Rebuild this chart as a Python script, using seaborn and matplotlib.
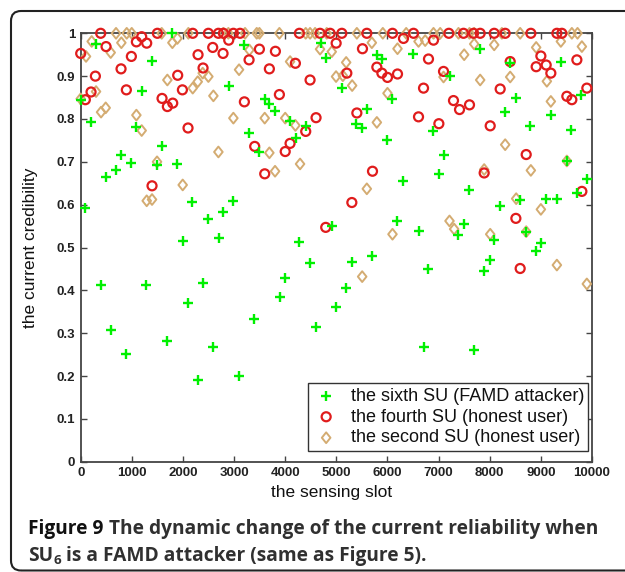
import numpy as np
import pandas as pd
import seaborn as sns
import matplotlib
matplotlib.use("Agg")
import matplotlib.pyplot as plt
from matplotlib.patches import FancyBboxPatch
from matplotlib.path import Path
from matplotlib.transforms import IdentityTransform

# ---------------- data ----------------
sixth_x = [0, 300, 196, 85, 489, 691, 795, 991, 1193, 1389, 1082, 1584, 1487, 1793, 1891,
           2184, 2497, 2791, 2986, 2895, 3195, 3293, 3495, 3599, 3690, 3801, 4095, 4212,
           4408, 4694, 4792, 5110, 4910,
           398, 593, 880, 1284, 1695, 1995, 2093, 2295, 2393, 2588, 2699, 3097, 3397, 3892,
           4003, 4277, 4486, 4597, 4994,
           5792, 5890, 6496, 7213, 7800, 8400, 9391, 6098, 5596, 5388, 5505, 8511, 8302,
           9189, 8791, 9587, 9789, 6900, 5987, 7096, 7005, 6294, 7604, 9899, 9508, 8204,
           8595, 9110, 9313, 9704, 6190, 6607, 7487, 7389, 8706,
           8093, 9000, 8908, 8009, 7891, 6802, 5701, 5309, 5192, 6705, 7696]
sixth_y = [0.845, 0.975, 0.792, 0.592, 0.664, 0.681, 0.716, 0.698, 0.866, 0.936, 0.781, 0.736,
           0.692, 1.0, 0.696, 0.606, 0.567, 0.584, 0.609, 0.877, 0.972, 0.767, 0.724, 0.847,
           0.836, 0.819, 0.795, 0.756, 0.783, 0.978, 0.942, 0.873, 0.551,
           0.412, 0.307, 0.251, 0.412, 0.282, 0.515, 0.370, 0.191, 0.417, 0.267, 0.522, 0.200,
           0.332, 0.385, 0.428, 0.512, 0.463, 0.314, 0.362,
           0.950, 0.940, 0.951, 0.901, 0.963, 0.930, 0.933, 0.847, 0.823, 0.788, 0.778, 0.849,
           0.816, 0.810, 0.784, 0.775, 0.857, 0.771, 0.752, 0.717, 0.671, 0.655, 0.634, 0.661,
           0.702, 0.597, 0.612, 0.614, 0.614, 0.628, 0.562, 0.538, 0.554, 0.529, 0.536,
           0.518, 0.511, 0.492, 0.471, 0.444, 0.450, 0.481, 0.465, 0.405, 0.267, 0.261]

fourth_x = [0, 91, 202, 287, 391, 496, 789, 893, 991, 1089, 1193, 1291, 1395, 1500, 1591, 1695,
            1800, 1897, 1989, 2099, 2191, 2295, 2393, 2497, 2693, 2791, 2986, 3117, 2582, 2784,
            2895, 3201, 3293, 3403, 3495, 3599, 3690, 3808, 3886, 4000, 4095, 4199, 4277, 4401,
            4486, 4603, 4792, 4681, 4879, 4996,
            5107, 5596, 6098, 6313, 6509, 6900, 7200, 7487, 7683, 7813, 8087, 8302, 8804, 9313,
            9410, 5511, 6802, 8400, 9000, 8908, 9104, 9195, 9704, 5205, 5792, 5890, 6000, 6196,
            7096, 6705, 8204, 9899, 9508, 9606, 7291, 7409, 7604, 5401, 6607, 7005, 8009, 8713,
            5707, 7891, 5303, 9802, 8511, 8595]
fourth_y = [0.953, 0.845, 0.863, 0.900, 1.0, 0.969, 0.917, 0.868, 0.946, 0.980, 0.992, 0.977,
            0.644, 1.0, 0.848, 0.829, 0.837, 0.902, 0.868, 0.779, 1.0, 0.950, 0.919, 1.0, 1.0,
            1.0, 1.0, 1.0, 0.967, 0.953, 0.984, 0.840, 0.938, 0.736, 0.963, 0.672, 0.917, 0.958,
            0.857, 0.724, 0.743, 0.930, 1.0, 0.771, 0.891, 0.803, 0.547, 1.0, 1.0, 0.977,
            1.0, 1.0, 1.0, 0.988, 1.0, 0.984, 1.0, 1.0, 1.0, 1.0, 1.0, 1.0, 1.0, 1.0,
            1.0, 0.964, 0.940, 0.934, 0.947, 0.922, 0.926, 0.907, 0.938, 0.907, 0.921, 0.907,
            0.897, 0.905, 0.911, 0.872, 0.870, 0.872, 0.853, 0.845, 0.843, 0.822, 0.833, 0.814,
            0.805, 0.789, 0.784, 0.717, 0.678, 0.674, 0.605, 0.631, 0.568, 0.451]

second_x = [0, 104, 215, 300, 398, 489, 587, 691, 795, 900, 998, 1089, 1193, 1291, 1395, 1493,
            1584, 1695, 1793, 1891, 1995, 2106, 2191, 2289, 2386, 2497, 2595, 2693, 2791, 2888,
            2986, 3097, 3214, 3299, 3443, 3495, 3599, 3690, 3801, 3886, 4000, 4095, 4199, 4290,
            4401, 4486, 4584, 4681, 4812, 4910, 4994,
            5401, 5909, 6366, 6900, 7031, 7389, 7604, 7696, 8237, 8595, 9606, 9717, 5694, 6196,
            6607, 6737, 7500, 7696, 8087, 8908, 9391, 9802, 5192, 5127, 5309, 7096, 7813, 8400,
            9117, 6000, 9195, 5792, 8302, 9508, 8804, 7891, 5596, 8517, 9000, 7213, 7304, 6098,
            8009, 8713, 5505, 9313, 9899]
second_y = [0.847, 0.946, 0.981, 0.864, 0.816, 0.826, 0.955, 1.0, 0.978, 1.0, 1.0, 0.809, 0.773,
            0.609, 0.612, 0.700, 1.0, 0.891, 0.978, 0.988, 0.646, 1.0, 0.872, 0.887, 0.907, 0.899,
            0.854, 0.723, 1.0, 1.0, 0.802, 0.915, 1.0, 0.961, 1.0, 1.0, 0.802, 0.721, 0.678, 1.0,
            0.802, 0.934, 0.785, 0.695, 1.0, 1.0, 1.0, 0.963, 1.0, 0.957, 0.899,
            1.0, 1.0, 1.0, 1.0, 1.0, 1.0, 1.0, 1.0, 1.0, 1.0, 1.0, 1.0, 0.978, 0.964,
            0.981, 0.983, 0.950, 0.975, 0.973, 0.967, 0.981, 0.969, 0.932, 0.901, 0.878, 0.898,
            0.891, 0.898, 0.888, 0.860, 0.841, 0.792, 0.740, 0.702, 0.680, 0.682, 0.637, 0.614,
            0.589, 0.562, 0.543, 0.531, 0.531, 0.537, 0.432, 0.459, 0.415]

labels = ["the sixth SU (FAMD attacker)",
          "the fourth SU (honest user)",
          "the second SU (honest user)"]
xticks = list(range(0, 10001, 1000))
yticks = [0, 0.1, 0.2, 0.3, 0.4, 0.5, 0.6, 0.7, 0.8, 0.9, 1]
ytick_labels = ["0", "0.1", "0.2", "0.3", "0.4", "0.5", "0.6", "0.7", "0.8", "0.9", "1"]
x_label = "the sensing slot"
y_label = "the current credibility"
cap_bold = "Figure 9"
cap_line1 = " The dynamic change of the current reliability when"
cap_line2a = "SU"
cap_sub = "6"
cap_line2b = " is a FAMD attacker (same as Figure 5)."

# ---------------- style ----------------
sns.set_theme(style="white")
plt.rcParams["font.family"] = ["Liberation Sans", "DejaVu Sans"]

W, H = 625, 572
fig = plt.figure(figsize=(W / 100, H / 100), dpi=100)
fig.patch.set_facecolor("white")
ax = fig.add_axes([80.7 / W, 1 - 461.7 / H, 511.3 / W, 428.4 / H])
ax.set_facecolor("white")

green = "#00f000"
red = "#e01c1c"
tan = "#d4ac72"

# MATLAB-like diamond (slightly taller than wide)
diamond = Path([(0, 1), (0.8, 0), (0, -1), (-0.8, 0), (0, 1)],
               [Path.MOVETO, Path.LINETO, Path.LINETO, Path.LINETO, Path.CLOSEPOLY])

d1 = pd.DataFrame({"x": sixth_x, "y": sixth_y})
d2 = pd.DataFrame({"x": fourth_x, "y": fourth_y})
d3 = pd.DataFrame({"x": second_x, "y": second_y})

sns.scatterplot(data=d3, x="x", y="y", ax=ax, marker=diamond, s=60, facecolor="none",
                edgecolor=tan, linewidth=1.4, label=labels[2], clip_on=False, zorder=3)
sns.scatterplot(data=d2, x="x", y="y", ax=ax, marker="o", s=42, facecolor="none",
                edgecolor=red, linewidth=1.6, label=labels[1], clip_on=False, zorder=4)
sns.scatterplot(data=d1, x="x", y="y", ax=ax, marker="+", s=50, color=green,
                linewidth=1.7, label=labels[0], clip_on=False, zorder=5)

ax.set_xlim(0, 10000)
ax.set_ylim(0, 1)
ax.set_xticks(xticks)
ax.set_xticklabels([str(t) for t in xticks])
ax.set_yticks(yticks)
ax.set_yticklabels(ytick_labels)

tickfont = ["Liberation Sans Narrow", "Liberation Sans"]
for lab in ax.get_xticklabels() + ax.get_yticklabels():
    lab.set_fontfamily(tickfont)
    lab.set_fontweight("bold")
    lab.set_fontsize(9.5)
    lab.set_color("#222222")

ax.tick_params(direction="in", length=4, width=1.0, color="#444444",
               top=True, right=True, bottom=True, left=True, pad=4)
for sp in ax.spines.values():
    sp.set_visible(True)
    sp.set_color("#444444")
    sp.set_linewidth(1.3)

ax.set_xlabel(x_label, fontsize=12.5, color="#111111")
ax.set_ylabel(y_label, fontsize=12.5, color="#111111")
ax.xaxis.set_label_coords(0.49, -0.055)
ax.yaxis.set_label_coords(-0.083, 0.5)

# legend in original order: sixth, fourth, second
handles, labs = ax.get_legend_handles_labels()
order = [labs.index(l) for l in labels]
leg = ax.legend([handles[i] for i in order], [labs[i] for i in order],
                loc="lower right", bbox_to_anchor=(0.993, 0.025), borderaxespad=0,
                fontsize=13, frameon=True, fancybox=False, framealpha=1,
                edgecolor="#333333", labelspacing=0.22, handlelength=1.5,
                handletextpad=0.6, borderpad=0.25)
leg.get_frame().set_linewidth(1.0)
for t in leg.get_texts():
    t.set_color("#111111")

# outer frame (rounded, opening to the right)
frame = FancyBboxPatch((11, 1.5), W + 40, H - 12.5, boxstyle="round,pad=0,rounding_size=10",
                       transform=IdentityTransform(), fill=False, edgecolor="#222222",
                       linewidth=1.5, clip_on=False)
fig.add_artist(frame)

# caption
renderer = fig.canvas.get_renderer()
capfont = ["Open Sans", "DejaVu Sans"]
capsize = 13.8
x0 = 28.5
y1 = H - 534
y2 = H - 561
t = fig.text(x0, y1, cap_bold, transform=IdentityTransform(), fontfamily=capfont,
             fontsize=capsize, fontweight="bold", color="#111111", va="baseline")
bb = t.get_window_extent(renderer)
fig.text(bb.x1, y1, cap_line1, transform=IdentityTransform(), fontfamily=capfont,
         fontsize=capsize, fontweight="bold", color="#303030", va="baseline")
t = fig.text(x0, y2, cap_line2a, transform=IdentityTransform(), fontfamily=capfont,
             fontsize=capsize, fontweight="bold", color="#303030", va="baseline")
bb = t.get_window_extent(renderer)
t = fig.text(bb.x1, y2 - 3, cap_sub, transform=IdentityTransform(), fontfamily=capfont,
             fontsize=capsize * 0.7, fontweight="bold", color="#303030", va="baseline")
bb = t.get_window_extent(renderer)
fig.text(bb.x1, y2, cap_line2b, transform=IdentityTransform(), fontfamily=capfont,
         fontsize=capsize, fontweight="bold", color="#303030", va="baseline")

fig.savefig("out.png", dpi=100, facecolor="white")
